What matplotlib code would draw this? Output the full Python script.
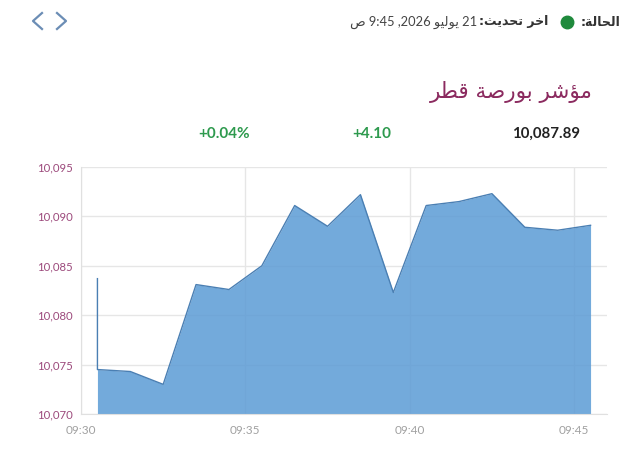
import re
import matplotlib
matplotlib.use("Agg")
import matplotlib.pyplot as plt
import matplotlib.dates as mdates
from matplotlib.lines import Line2D
from matplotlib.ticker import FuncFormatter
import pandas as pd

# data
times = ["09:30:30", "09:30:30", "09:31:30", "09:32:30", "09:33:30", "09:34:30",
         "09:35:30", "09:36:30", "09:37:30", "09:38:30", "09:39:30", "09:40:30",
         "09:41:30", "09:42:30", "09:43:30", "09:44:30", "09:45:30"]
values = [10083.7, 10074.5, 10074.3, 10073.0, 10083.1, 10082.6, 10085.0, 10091.1,
          10089.0, 10092.2, 10082.3, 10091.1, 10091.5, 10092.3, 10088.9, 10088.6, 10089.1]
y_ticks = [10070, 10075, 10080, 10085, 10090, 10095]
x_ticks = ["09:30", "09:35", "09:40", "09:45"]

title = "مؤشر بورصة قطر"
status = "الحالة:"
updated_label = "اخر تحديث:"
updated_value = "21 يوليو 2026, 9:45 ص"
change_pct = "+0.04%"
change_abs = "+4.10"
last_value = "10,087.89"

day = "2026-07-21 "

# matplotlib has no arabic shaping, so use presentation forms + reverse
FORMS = {
    'ا': ('\uFE8D', '\uFE8E', None, None),
    'ؤ': ('\uFE85', '\uFE86', None, None),
    'ب': ('\uFE8F', '\uFE90', '\uFE91', '\uFE92'),
    'ة': ('\uFE93', '\uFE94', None, None),
    'ت': ('\uFE95', '\uFE96', '\uFE97', '\uFE98'),
    'ث': ('\uFE99', '\uFE9A', '\uFE9B', '\uFE9C'),
    'ح': ('\uFEA1', '\uFEA2', '\uFEA3', '\uFEA4'),
    'خ': ('\uFEA5', '\uFEA6', '\uFEA7', '\uFEA8'),
    'د': ('\uFEA9', '\uFEAA', None, None),
    'ر': ('\uFEAD', '\uFEAE', None, None),
    'ش': ('\uFEB5', '\uFEB6', '\uFEB7', '\uFEB8'),
    'ص': ('\uFEB9', '\uFEBA', '\uFEBB', '\uFEBC'),
    'ط': ('\uFEC1', '\uFEC2', '\uFEC3', '\uFEC4'),
    'ق': ('\uFED5', '\uFED6', '\uFED7', '\uFED8'),
    'ل': ('\uFEDD', '\uFEDE', '\uFEDF', '\uFEE0'),
    'م': ('\uFEE1', '\uFEE2', '\uFEE3', '\uFEE4'),
    'و': ('\uFEED', '\uFEEE', None, None),
    'ي': ('\uFEF1', '\uFEF2', '\uFEF3', '\uFEF4'),
}


def ar(s):
    out = []
    for i, c in enumerate(s):
        if c not in FORMS:
            out.append(c)
            continue
        iso, fin, ini, med = FORMS[c]
        prev = s[i - 1] if i > 0 else ''
        nxt = s[i + 1] if i + 1 < len(s) else ''
        jp = prev in FORMS and FORMS[prev][2] is not None
        jn = ini is not None and nxt in FORMS
        if jp and jn:
            out.append(med)
        elif jp:
            out.append(fin)
        elif jn:
            out.append(ini)
        else:
            out.append(iso)
    shaped = ''.join(out)
    parts = re.split(r'([0-9]+(?:[:.][0-9]+)*)', shaped)
    vis = []
    for p in reversed(parts):
        if re.fullmatch(r'[0-9]+(?:[:.][0-9]+)*', p):
            vis.append(p)
        else:
            vis.append(p[::-1])
    return ''.join(vis)


font = ['Lato', 'DejaVu Sans']
plt.rcParams['font.family'] = font

x = pd.to_datetime([day + t for t in times])

fig = plt.figure(figsize=(6.4, 4.61), dpi=100)
ax = fig.add_axes([81 / 640, 1 - 414 / 461, 526 / 640, 247 / 461])

ax.fill_between(x, values, 10070, color='#5b9bd5', alpha=0.85, lw=0, zorder=2)
ax.plot(x, values, color='#4a7fb3', lw=1.0, zorder=3)

ax.set_ylim(10070, 10095)
ax.set_xlim(pd.Timestamp(day + "09:30"), pd.Timestamp(day + "09:46"))
ax.set_yticks(y_ticks)
ax.yaxis.set_major_formatter(FuncFormatter(lambda v, p: f"{v:,.0f}"))
ax.set_xticks(pd.to_datetime([day + t for t in x_ticks]))
ax.xaxis.set_major_formatter(mdates.DateFormatter("%H:%M"))

ax.grid(True, color='#e6e6e6', lw=1, zorder=0)
ax.set_axisbelow(True)
for s in ['top', 'right']:
    ax.spines[s].set_visible(False)
for s in ['left', 'bottom']:
    ax.spines[s].set_color('#e0e0e0')
ax.tick_params(axis='y', length=0, pad=6, labelsize=8.2, labelcolor='#9c4a7c')
ax.tick_params(axis='x', length=0, pad=8, labelsize=8.5, labelcolor='#a0a0a0')

# header
fig.text(593 / 640, 1 - 92 / 461, ar(title), ha='right', va='center',
         fontsize=15.5, color='#8b2a5f', family='DejaVu Sans')
fig.text(620 / 640, 1 - 22 / 461, ar(status), ha='right', va='center',
         fontsize=9, color='#333333', family='DejaVu Sans', weight='bold')
fig.add_artist(Line2D([567 / 640], [1 - 22 / 461], marker='o', ms=9,
                      color='#1f8a3c', transform=fig.transFigure))
fig.text(548 / 640, 1 - 22 / 461, ar(updated_label), ha='right', va='center',
         fontsize=9, color='#333333', family='DejaVu Sans', weight='bold')
fig.text(477 / 640, 1 - 22 / 461, ar(updated_value), ha='right', va='center',
         fontsize=9.3, color='#444444', family=font)

# nav arrows
for xs in ([42, 33, 42], [57, 66, 57]):
    fig.add_artist(Line2D([v / 640 for v in xs],
                          [1 - 13 / 461, 1 - 21 / 461, 1 - 29 / 461],
                          color='#6b8db5', lw=1.6, transform=fig.transFigure))

# stats row
fig.text(224 / 640, 1 - 134 / 461, change_pct, ha='center', va='center',
         fontsize=11, color='#2e9a4e', weight='bold', family=font)
fig.text(372 / 640, 1 - 134 / 461, change_abs, ha='center', va='center',
         fontsize=11, color='#2e9a4e', weight='bold', family=font)
fig.text(580 / 640, 1 - 134 / 461, last_value, ha='right', va='center',
         fontsize=10.8, color='#222222', weight='bold', family=font)

fig.savefig('out.png', dpi=100)
